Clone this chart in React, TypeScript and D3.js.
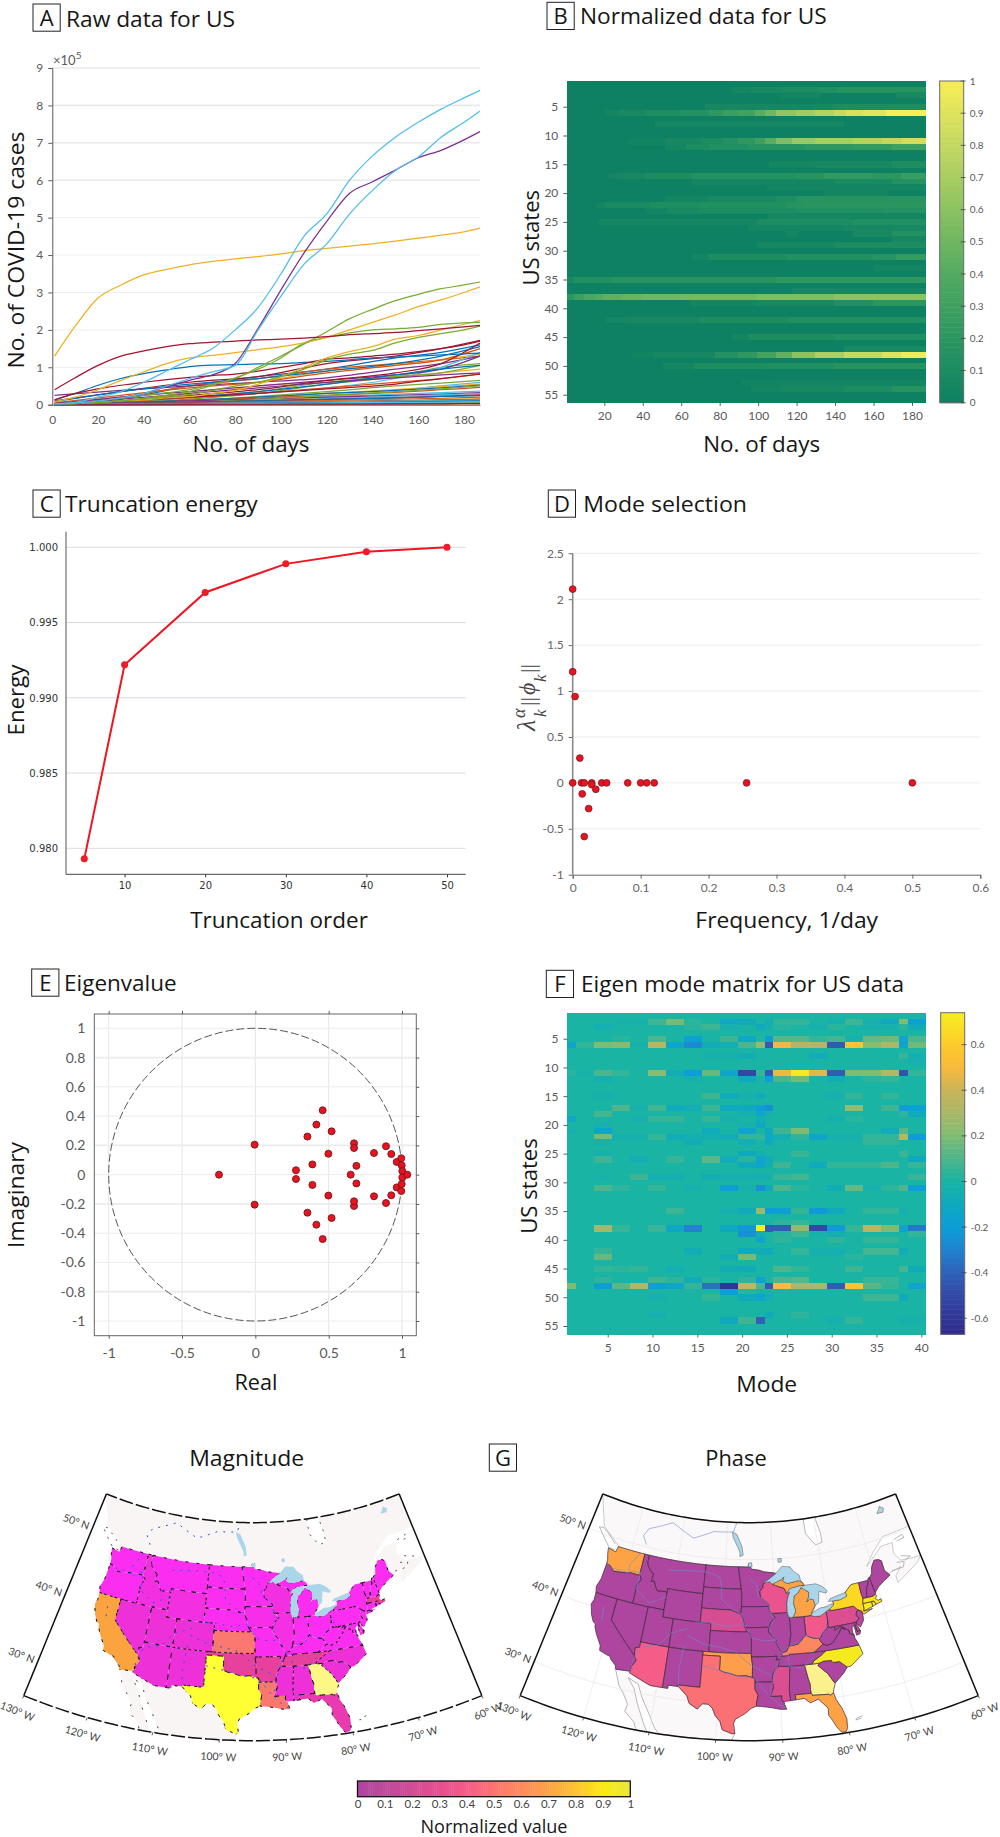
import * as d3 from "d3";
import { useEffect, useRef } from "react";

const UI_FONT = "Lato, sans-serif";
const LABEL_FONT = "'Open Sans', sans-serif";
const TICK_GRAY = "#5a5a5a";
const TEXT_DARK = "#161616";

// MATLAB line colours
const lineColors = ["#0072BD", "#D95319", "#EDB120", "#7E2F8E", "#77AC30", "#4DBEEE", "#A2142F"];

// Panel A, values in units of 10^5 cases
const mainDays = [1, 10, 20, 30, 40, 50, 60, 70, 80, 90, 100, 110, 120, 130, 140, 150, 160, 170, 180, 187];
const mainSeries: { color: number; values: number[] }[] = [
  { color: 0, values: [0.13, 0.3, 0.52, 0.7, 0.83, 0.93, 1.02, 1.06, 1.07, 1.09, 1.1, 1.13, 1.16, 1.2, 1.25, 1.27, 1.3, 1.33, 1.36, 1.38] },
  { color: 6, values: [0.13, 0.3, 0.42, 0.52, 0.6, 0.67, 0.73, 0.78, 0.82, 0.9, 1.0, 1.1, 1.22, 1.25, 1.3, 1.35, 1.42, 1.5, 1.6, 1.7] },
  { color: 2, values: [0.01, 0.03, 0.06, 0.1, 0.13, 0.18, 0.22, 0.3, 0.38, 0.55, 0.75, 1.0, 1.25, 1.42, 1.55, 1.75, 1.85, 2.0, 2.15, 2.25] },
  { color: 4, values: [0.01, 0.03, 0.06, 0.1, 0.15, 0.2, 0.27, 0.38, 0.5, 0.6, 0.75, 0.95, 1.2, 1.35, 1.45, 1.65, 1.8, 1.9, 2.0, 2.1] },
  { color: 4, values: [0.01, 0.03, 0.06, 0.1, 0.17, 0.25, 0.35, 0.52, 0.72, 0.95, 1.25, 1.65, 1.8, 1.92, 2.0, 2.03, 2.07, 2.15, 2.19, 2.2] },
  { color: 2, values: [0.08, 0.2, 0.4, 0.65, 0.88, 1.1, 1.25, 1.32, 1.39, 1.47, 1.55, 1.65, 1.8, 2.0, 2.2, 2.4, 2.62, 2.8, 3.0, 3.15] },
  { color: 4, values: [0.01, 0.05, 0.1, 0.17, 0.25, 0.32, 0.4, 0.55, 0.7, 1.0, 1.3, 1.62, 1.95, 2.3, 2.55, 2.78, 2.95, 3.1, 3.2, 3.28] },
  { color: 6, values: [0.4, 0.72, 1.05, 1.3, 1.44, 1.55, 1.63, 1.67, 1.7, 1.73, 1.75, 1.78, 1.82, 1.87, 1.9, 1.93, 1.98, 2.03, 2.08, 2.12] },
  { color: 2, values: [1.3, 2.1, 2.85, 3.2, 3.47, 3.62, 3.74, 3.83, 3.9, 3.96, 4.03, 4.12, 4.18, 4.24, 4.3, 4.37, 4.45, 4.53, 4.62, 4.72] },
  { color: 3, values: [0.01, 0.04, 0.1, 0.18, 0.3, 0.48, 0.65, 0.8, 1.1, 2.04, 3.07, 4.05, 4.9, 5.65, 5.96, 6.27, 6.6, 6.8, 7.08, 7.3] },
  { color: 5, values: [0.01, 0.04, 0.1, 0.18, 0.3, 0.5, 0.7, 0.88, 1.05, 2.0, 2.9, 3.75, 4.3, 5.1, 5.73, 6.26, 6.62, 7.15, 7.55, 7.85] },
  { color: 5, values: [0.02, 0.06, 0.2, 0.35, 0.6, 0.9, 1.2, 1.5, 2.0, 2.6, 3.5, 4.5, 5.1, 6.0, 6.65, 7.15, 7.55, 7.9, 8.2, 8.4] },
];

const lowDays = [1, 30, 60, 90, 120, 150, 170, 187];
const lowSeries: number[][] = [
  [0.02, 0.15, 0.5, 0.75, 0.95, 1.25, 1.4, 1.6],
  [0.02, 0.2, 0.5, 0.7, 0.95, 1.1, 1.2, 1.3],
  [0.01, 0.1, 0.3, 0.6, 0.9, 1.05, 1.2, 1.35],
  [0.25, 0.38, 0.5, 0.6, 0.72, 0.95, 1.1, 1.3],
  [0.01, 0.05, 0.15, 0.3, 0.55, 0.75, 1.0, 1.1],
  [0.01, 0.08, 0.2, 0.3, 0.45, 0.7, 1.0, 1.4],
  [0.1, 0.35, 0.6, 0.75, 1.1, 1.3, 1.5, 1.72],
  [0.08, 0.35, 0.55, 0.7, 0.9, 1.1, 1.3, 1.55],
  [0.05, 0.25, 0.45, 0.6, 0.85, 1.05, 1.2, 1.5],
  [0.01, 0.06, 0.2, 0.5, 0.6, 0.75, 0.85, 0.95],
  [0.03, 0.2, 0.35, 0.5, 0.65, 0.8, 0.95, 1.3],
  [0.01, 0.06, 0.2, 0.35, 0.6, 0.75, 0.85, 1.05],
  [0.01, 0.05, 0.1, 0.2, 0.3, 0.38, 0.5, 0.6],
  [0.02, 0.1, 0.25, 0.4, 0.65, 0.85, 1.1, 1.65],
  [0.02, 0.1, 0.2, 0.35, 0.55, 0.8, 0.95, 1.05],
  [0.01, 0.08, 0.18, 0.3, 0.45, 0.6, 0.7, 0.82],
  [0.01, 0.05, 0.12, 0.2, 0.3, 0.4, 0.48, 0.55],
  [0.02, 0.15, 0.3, 0.45, 0.6, 0.72, 0.8, 0.85],
  [0.01, 0.05, 0.1, 0.22, 0.35, 0.5, 0.58, 0.65],
  [0.005, 0.03, 0.08, 0.15, 0.22, 0.28, 0.32, 0.36],
  [0.01, 0.1, 0.2, 0.3, 0.42, 0.55, 0.7, 0.82],
  [0.01, 0.06, 0.12, 0.2, 0.3, 0.38, 0.45, 0.52],
  [0.005, 0.04, 0.1, 0.18, 0.25, 0.33, 0.4, 0.46],
  [0.005, 0.03, 0.08, 0.12, 0.18, 0.22, 0.26, 0.3],
  [0.01, 0.05, 0.1, 0.15, 0.2, 0.25, 0.28, 0.32],
  [0.005, 0.03, 0.07, 0.14, 0.25, 0.35, 0.42, 0.5],
  [0.003, 0.02, 0.05, 0.1, 0.16, 0.22, 0.26, 0.3],
  [0.005, 0.03, 0.06, 0.1, 0.14, 0.18, 0.22, 0.26],
  [0.005, 0.03, 0.07, 0.1, 0.14, 0.18, 0.22, 0.24],
  [0.002, 0.02, 0.05, 0.08, 0.11, 0.14, 0.17, 0.2],
  [0.002, 0.015, 0.03, 0.06, 0.09, 0.12, 0.14, 0.16],
  [0.003, 0.02, 0.04, 0.06, 0.08, 0.1, 0.12, 0.14],
  [0.002, 0.015, 0.03, 0.05, 0.07, 0.09, 0.11, 0.13],
  [0.002, 0.01, 0.025, 0.05, 0.07, 0.09, 0.1, 0.12],
  [0.002, 0.01, 0.02, 0.035, 0.05, 0.06, 0.07, 0.08],
  [0.001, 0.01, 0.02, 0.03, 0.05, 0.07, 0.09, 0.1],
  [0.001, 0.005, 0.01, 0.02, 0.03, 0.04, 0.05, 0.05],
  [0.0005, 0.003, 0.005, 0.01, 0.012, 0.015, 0.018, 0.02],
  [0.001, 0.005, 0.01, 0.015, 0.02, 0.025, 0.03, 0.035],
  [0.001, 0.006, 0.012, 0.02, 0.03, 0.04, 0.045, 0.05],
  [0.001, 0.008, 0.015, 0.03, 0.05, 0.06, 0.07, 0.08],
  [0.0005, 0.003, 0.006, 0.01, 0.015, 0.02, 0.025, 0.03],
];

// Panel B: row -> [first day, last day, value]; everything else is 0
type Span = [number, number, number];
const normalizedRows: Record<number, Span[]> = {
  2: [[87, 97, 0.05], [97, 113, 0.08], [113, 132, 0.11], [132, 142, 0.14], [142, 187, 0.18]],
  3: [[113, 132, 0.05], [172, 187, 0.08]],
  5: [[73, 139, 0.06], [139, 187, 0.1]],
  6: [[21, 28, 0.04], [28, 42, 0.08], [42, 60, 0.12], [60, 75, 0.15], [75, 82, 0.22], [82, 90, 0.28], [90, 99, 0.32], [99, 104, 0.42], [104, 110, 0.5], [110, 120, 0.62], [120, 130, 0.68], [130, 140, 0.75], [140, 146, 0.82], [146, 155, 0.88], [155, 167, 0.92], [167, 187, 1]],
  8: [[47, 144, 0.05]],
  11: [[33, 52, 0.03], [52, 72, 0.07], [72, 82, 0.1], [82, 90, 0.15], [90, 99, 0.22], [99, 104, 0.3], [104, 110, 0.42], [110, 118, 0.55], [118, 130, 0.65], [130, 150, 0.7], [150, 165, 0.75], [165, 175, 0.8], [175, 187, 0.85]],
  12: [[52, 63, 0.05], [63, 75, 0.1], [75, 95, 0.13], [95, 125, 0.17], [125, 150, 0.22], [150, 170, 0.25], [170, 187, 0.3]],
  15: [[106, 130, 0.05], [130, 170, 0.07], [170, 187, 0.11]],
  17: [[22, 27, 0.04], [27, 42, 0.07], [42, 66, 0.11], [66, 120, 0.15], [120, 135, 0.18], [135, 160, 0.24], [160, 175, 0.2], [175, 187, 0.27]],
  18: [[66, 140, 0.05], [140, 170, 0.09], [170, 187, 0.16]],
  19: [[105, 187, 0.04]],
  20: [[135, 167, 0.05]],
  21: [[52, 75, 0.05], [75, 110, 0.08], [110, 120, 0.12], [120, 187, 0.17]],
  22: [[16, 21, 0.04], [21, 45, 0.09], [45, 70, 0.12], [70, 115, 0.14], [115, 125, 0.17], [125, 165, 0.19], [165, 187, 0.2]],
  23: [[42, 53, 0.04], [53, 70, 0.08], [70, 120, 0.1], [120, 165, 0.13], [165, 187, 0.15]],
  24: [[105, 187, 0.05]],
  25: [[17, 100, 0.05], [100, 150, 0.1], [150, 187, 0.13]],
  26: [[95, 145, 0.05], [145, 187, 0.07]],
  27: [[115, 120, 0.05], [150, 170, 0.08], [170, 187, 0.16]],
  28: [[170, 187, 0.06]],
  29: [[100, 110, 0.07], [110, 140, 0.06], [140, 187, 0.11]],
  31: [[66, 75, 0.05], [75, 115, 0.1], [115, 160, 0.14], [160, 172, 0.17], [172, 187, 0.25]],
  33: [[160, 187, 0.04]],
  35: [[1, 5, 0.08], [5, 25, 0.14], [25, 110, 0.17], [110, 187, 0.22]],
  37: [[118, 187, 0.06]],
  38: [[1, 5, 0.2], [5, 10, 0.3], [10, 15, 0.36], [15, 20, 0.4], [20, 30, 0.45], [30, 40, 0.48], [40, 60, 0.5], [60, 100, 0.52], [100, 140, 0.55], [140, 187, 0.6]],
  39: [[65, 100, 0.05], [100, 140, 0.08], [140, 160, 0.13], [160, 187, 0.2]],
  42: [[21, 32, 0.05], [32, 70, 0.07], [70, 115, 0.1], [115, 187, 0.13]],
  45: [[87, 96, 0.05], [96, 140, 0.1], [140, 187, 0.13]],
  47: [[145, 187, 0.08]],
  48: [[35, 47, 0.03], [47, 78, 0.07], [78, 90, 0.15], [90, 100, 0.22], [100, 110, 0.33], [110, 118, 0.45], [118, 130, 0.6], [130, 145, 0.72], [145, 165, 0.82], [165, 175, 0.9], [175, 187, 0.97]],
  50: [[51, 67, 0.05], [67, 105, 0.12], [105, 140, 0.14], [140, 187, 0.18]],
  53: [[92, 112, 0.03], [112, 187, 0.04]],
  54: [[97, 112, 0.05], [112, 145, 0.07], [145, 170, 0.1], [170, 187, 0.18]],
};

// Panel C
const truncationOrders = [5, 10, 20, 30, 40, 50];
const truncationEnergy = [0.9793, 0.9922, 0.997, 0.9989, 0.9997, 1.0];

// Panel D
const modeFrequency = [0, 0, 0.0035, 0.0105, 0, 0.013, 0.017, 0.014, 0.0235, 0.017, 0.028, 0.028, 0.034, 0.0427, 0.05, 0.081, 0.1, 0.109, 0.12, 0.256, 0.5];
const modeAmplitude = [2.11, 1.21, 0.94, 0.27, 0, 0, 0, -0.12, -0.28, -0.585, 0, -0.02, -0.07, 0, 0, 0, 0, 0, 0, 0, 0];

// Panel E
const eigenReal = [-0.248, -0.005, -0.005, 0.277, 0.277, 0.355, 0.355, 0.389, 0.389, 0.416, 0.416, 0.459, 0.459, 0.498, 0.498, 0.52, 0.52, 0.65, 0.673, 0.673, 0.673, 0.673, 0.689, 0.689, 0.809, 0.809, 0.891, 0.891, 0.927, 0.927, 0.964, 0.964, 0.995, 0.995, 0.998, 0.998, 1.002, 1.002, 1.036];
const eigenImag = [0, 0.205, -0.205, 0.03, -0.03, 0.26, -0.26, 0.07, -0.07, 0.342, -0.342, 0.44, -0.44, 0.143, -0.143, 0.296, -0.296, 0, 0.214, -0.214, 0.182, -0.182, 0.06, -0.06, 0.148, -0.148, 0.194, -0.194, 0.141, -0.141, 0.087, -0.087, 0.112, -0.112, 0.064, -0.064, 0.025, -0.02, 0];

// Panel F: row -> [first mode, last mode, value]; everything else is 0
const modeRows: Record<number, Span[]> = {
  2: [[6, 9, -0.02], [10, 11, 0.07], [12, 13, 0.18], [14, 15, 0.03], [18, 19, -0.12], [20, 21, -0.08], [23, 23, -0.05], [24, 25, 0.05], [26, 27, 0.05], [30, 31, -0.03], [32, 33, 0.07], [34, 35, -0.04], [36, 37, -0.1], [38, 38, 0.2], [39, 40, -0.18]],
  3: [[4, 5, -0.05], [14, 15, 0.03], [16, 17, 0.07], [18, 19, -0.04], [22, 22, -0.08], [23, 23, -0.04], [24, 25, 0.03], [28, 29, -0.03], [30, 31, 0.03], [34, 37, -0.03], [38, 38, 0.04], [39, 40, -0.08]],
  5: [[6, 7, 0.03], [10, 11, 0.1], [14, 15, -0.18], [18, 19, 0.07], [20, 21, -0.12], [22, 22, 0.02], [23, 23, -0.2], [24, 27, 0.12], [28, 29, 0.05], [30, 31, 0.08], [32, 33, -0.02], [34, 35, 0.15], [36, 37, 0.17], [38, 38, -0.15], [39, 40, 0.1]],
  6: [[1, 1, -0.15], [2, 3, 0.05], [4, 5, 0.2], [6, 7, 0.22], [8, 9, -0.03], [10, 11, 0.35], [12, 13, -0.15], [14, 15, -0.27], [16, 17, -0.07], [18, 19, -0.05], [20, 21, 0.1], [22, 22, 0.25], [23, 23, -0.42], [24, 25, 0.48], [26, 29, 0.33], [30, 31, -0.42], [32, 33, 0.55], [34, 35, 0.22], [36, 37, 0.3], [38, 38, -0.15], [39, 40, 0.17]],
  8: [[16, 19, -0.03], [20, 21, -0.06], [28, 29, -0.07], [38, 38, 0.05], [39, 40, -0.05]],
  9: [[39, 40, -0.03]],
  11: [[1, 1, 0.03], [2, 3, -0.02], [4, 5, 0.1], [6, 7, 0.05], [10, 11, 0.22], [12, 13, -0.07], [14, 15, -0.2], [16, 17, 0.15], [18, 19, -0.15], [20, 21, -0.5], [22, 22, 0.05], [23, 23, -0.42], [24, 25, 0.48], [26, 27, 0.72], [28, 29, 0.45], [30, 31, -0.42], [32, 35, 0.2], [36, 37, 0.33], [38, 38, -0.45], [39, 40, 0.05]],
  12: [[4, 5, -0.05], [14, 15, -0.03], [20, 21, -0.1], [23, 23, -0.2], [24, 25, 0.1], [26, 27, 0.18], [30, 31, -0.06], [34, 35, 0.04], [36, 37, 0.05]],
  15: [[4, 5, -0.03], [16, 17, 0.07], [18, 19, -0.08], [20, 21, -0.03], [22, 22, -0.08], [30, 31, -0.03], [32, 33, 0.05], [36, 37, 0.05]],
  17: [[6, 7, 0.1], [8, 9, -0.03], [10, 11, 0.08], [12, 13, -0.08], [14, 15, -0.05], [16, 17, 0.07], [18, 21, -0.1], [22, 22, -0.2], [23, 23, -0.25], [32, 33, 0.25], [36, 37, 0.07], [38, 38, -0.2], [39, 40, -0.18]],
  18: [[4, 5, 0.08], [20, 21, -0.03], [22, 22, -0.15], [23, 23, -0.04], [38, 38, 0.04], [39, 40, -0.08]],
  19: [[1, 1, -0.12], [8, 9, -0.03], [10, 13, 0.05], [16, 17, 0.05], [18, 19, -0.03], [22, 22, -0.05], [30, 31, -0.03], [32, 33, 0.03]],
  20: [[4, 5, -0.03], [20, 21, -0.03], [22, 22, -0.12]],
  21: [[1, 1, -0.03], [4, 5, -0.15], [16, 17, -0.08], [20, 21, -0.15], [23, 23, -0.1], [24, 25, 0.07], [26, 27, 0.2], [36, 37, -0.07], [38, 38, 0.12]],
  22: [[4, 5, 0.18], [6, 9, -0.03], [10, 11, 0.05], [12, 13, -0.07], [14, 17, -0.05], [18, 19, -0.07], [20, 22, 0.05], [23, 23, -0.12], [24, 25, -0.05], [26, 27, 0.04], [28, 29, -0.14], [30, 33, -0.03], [34, 37, 0.05], [38, 38, 0.35], [39, 40, -0.2]],
  23: [[4, 5, -0.03], [14, 15, -0.06], [20, 21, -0.05], [23, 23, -0.1], [34, 37, 0.05]],
  25: [[4, 5, -0.03], [20, 21, -0.1], [22, 22, -0.03], [26, 27, 0.06], [38, 38, 0.06]],
  26: [[4, 5, 0.07], [8, 9, -0.05], [12, 13, 0.05], [16, 17, 0.13], [18, 19, -0.07], [20, 21, 0.03], [22, 22, -0.15], [23, 23, -0.06], [39, 40, -0.1]],
  27: [[20, 21, -0.08], [22, 22, -0.15], [23, 23, -0.05], [24, 25, 0.07], [28, 29, -0.08], [30, 35, 0.05], [36, 37, 0.1], [39, 40, 0.05]],
  29: [[4, 5, -0.02], [8, 9, 0.07], [10, 13, -0.05], [16, 17, -0.06], [18, 21, -0.04], [22, 22, -0.05], [23, 23, -0.03], [24, 25, 0.06], [26, 27, 0.08], [39, 40, 0.06]],
  31: [[4, 5, 0.1], [6, 7, 0.04], [10, 11, 0.05], [14, 15, -0.03], [18, 19, -0.2], [20, 21, -0.03], [22, 22, -0.25], [23, 23, -0.08], [24, 25, 0.1], [26, 27, 0.03], [30, 31, -0.06], [32, 33, 0.15], [34, 35, -0.04], [36, 37, 0.04], [38, 38, 0.1], [39, 40, -0.2]],
  35: [[12, 13, 0.07], [18, 19, -0.04], [20, 21, -0.08], [22, 22, 0.25], [23, 23, -0.2], [24, 25, -0.18], [26, 27, 0.05], [28, 29, -0.22], [30, 31, -0.1], [34, 37, 0.05], [38, 38, -0.04]],
  37: [[24, 25, 0.04], [26, 27, 0.06]],
  38: [[4, 5, 0.28], [6, 7, 0.05], [10, 11, 0.06], [12, 13, -0.12], [14, 15, -0.3], [18, 19, -0.1], [20, 21, -0.22], [22, 22, 0.74], [23, 23, -0.42], [24, 25, -0.42], [26, 27, 0.25], [28, 29, -0.5], [30, 31, -0.22], [32, 33, 0.05], [34, 35, 0.35], [36, 37, 0.2], [38, 38, -0.15], [39, 40, -0.33]],
  39: [[20, 21, -0.25], [22, 22, -0.05], [24, 25, 0.03], [26, 27, 0.07], [28, 29, -0.02], [30, 31, -0.05], [39, 40, 0.05]],
  40: [[22, 22, -0.15], [24, 25, 0.04], [30, 31, 0.04], [34, 37, 0.05]],
  42: [[4, 5, 0.05], [14, 15, -0.06], [20, 21, -0.08], [22, 22, -0.06], [23, 23, -0.08], [26, 27, 0.05], [28, 31, -0.04], [34, 37, 0.08], [38, 38, -0.06]],
  43: [[4, 5, 0.15], [18, 19, -0.06], [20, 21, 0.18], [32, 33, 0.03]],
  45: [[4, 5, 0.05], [6, 7, 0.04], [8, 9, 0.05], [12, 13, -0.05], [18, 19, -0.06], [20, 21, -0.08], [24, 25, 0.1], [26, 27, 0.05], [32, 33, 0.07], [38, 38, 0.08], [39, 40, -0.08]],
  47: [[4, 5, 0.04], [10, 11, 0.07], [12, 13, 0.04], [14, 15, -0.07], [16, 17, 0.03], [20, 21, 0.04], [22, 22, -0.18], [24, 25, 0.1], [26, 27, 0.12], [34, 37, 0.06]],
  48: [[1, 1, 0.2], [4, 5, -0.2], [6, 7, 0.13], [8, 9, 0.33], [10, 11, -0.2], [12, 13, -0.14], [14, 15, 0.05], [16, 17, -0.35], [18, 19, -0.6], [20, 21, 0.38], [22, 22, 0.1], [23, 23, -0.42], [24, 25, 0.5], [26, 29, 0.3], [30, 31, -0.42], [32, 33, 0.55], [34, 35, 0.12], [36, 37, 0.05], [39, 40, -0.15]],
  49: [[18, 19, -0.2], [20, 21, 0.03]],
  50: [[10, 11, -0.03], [16, 17, 0.05], [20, 21, -0.08], [22, 22, -0.15], [23, 23, -0.05], [34, 37, 0.07], [38, 38, -0.08]],
  53: [[10, 11, -0.03], [23, 23, -0.08], [26, 27, 0.04]],
  54: [[18, 19, -0.1], [20, 21, 0.07], [22, 22, -0.4], [30, 31, -0.03], [32, 33, 0.05], [38, 40, -0.03]],
};

// Panel G, state outlines in [lon, lat]
type Pt = [number, number];
const stateShapes: Record<string, Pt[]> = {
  WA: [[-124.7, 48.4], [-123.0, 48.2], [-122.8, 49], [-117.03, 49], [-117.04, 46.4], [-116.92, 45.99], [-118.98, 46], [-119.3, 45.93], [-121.2, 45.65], [-122.3, 45.55], [-122.8, 45.9], [-123.2, 46.15], [-124.0, 46.25], [-124.1, 46.9], [-124.4, 47.5]],
  OR: [[-124.0, 46.25], [-123.2, 46.15], [-122.8, 45.9], [-122.3, 45.55], [-121.2, 45.65], [-119.3, 45.93], [-118.98, 46], [-116.92, 45.99], [-116.5, 45.5], [-117.2, 44.4], [-117.03, 44.2], [-117.03, 42], [-124.2, 42], [-124.5, 42.85], [-124.1, 44]],
  CA: [[-124.2, 42], [-120, 42], [-120, 39], [-114.63, 35], [-114.14, 34.3], [-114.7, 33.4], [-114.72, 32.72], [-117.12, 32.53], [-117.3, 33], [-118.4, 33.75], [-118.5, 34.03], [-119.2, 34.15], [-120.5, 34.45], [-120.65, 35.15], [-121.9, 36.6], [-122.5, 37.5], [-122.5, 37.8], [-123.0, 38], [-123.7, 38.9], [-124.35, 40.3], [-124.1, 41]],
  NV: [[-120, 42], [-114.04, 42], [-114.04, 36.2], [-114.74, 36.1], [-114.63, 35], [-120, 39]],
  ID: [[-117.03, 49], [-116.05, 49], [-116.05, 48], [-115.7, 47.45], [-114.7, 46.7], [-114.35, 46.65], [-114.5, 45.55], [-113.95, 45.7], [-113.45, 44.95], [-113.0, 44.45], [-111.5, 44.55], [-111.05, 44.48], [-111.05, 42], [-117.03, 42], [-117.03, 44.2], [-117.2, 44.4], [-116.5, 45.5], [-116.92, 45.99], [-117.04, 46.4]],
  MT: [[-116.05, 49], [-104.05, 49], [-104.05, 45], [-111.05, 45], [-111.05, 44.48], [-111.5, 44.55], [-113, 44.45], [-113.45, 44.95], [-113.95, 45.7], [-114.5, 45.55], [-114.35, 46.65], [-114.7, 46.7], [-115.7, 47.45], [-116.05, 48]],
  WY: [[-111.05, 45], [-104.05, 45], [-104.05, 41], [-111.05, 41]],
  UT: [[-114.04, 42], [-111.05, 42], [-111.05, 41], [-109.05, 41], [-109.05, 37], [-114.04, 37]],
  CO: [[-109.05, 41], [-102.05, 41], [-102.05, 37], [-109.05, 37]],
  AZ: [[-114.74, 36.1], [-114.04, 36.2], [-114.04, 37], [-109.05, 37], [-109.05, 31.33], [-111.07, 31.33], [-114.81, 32.5], [-114.72, 32.72], [-114.7, 33.4], [-114.14, 34.3], [-114.63, 35]],
  NM: [[-109.05, 37], [-103.0, 37], [-103.04, 32], [-106.62, 32], [-106.53, 31.78], [-108.21, 31.78], [-108.21, 31.33], [-109.05, 31.33]],
  ND: [[-104.05, 49], [-97.23, 49], [-96.56, 45.94], [-104.05, 45.94]],
  SD: [[-104.05, 45.94], [-96.56, 45.94], [-96.45, 45.3], [-96.45, 43.5], [-96.6, 42.5], [-97.9, 42.8], [-98.5, 43], [-104.05, 43]],
  NE: [[-104.05, 43], [-98.5, 43], [-97.9, 42.8], [-96.6, 42.5], [-96.1, 41.7], [-95.85, 40.7], [-95.3, 40], [-102.05, 40], [-102.05, 41], [-104.05, 41]],
  KS: [[-102.05, 40], [-95.3, 40], [-94.9, 39.8], [-94.6, 39.1], [-94.62, 37], [-102.05, 37]],
  OK: [[-103, 37], [-94.62, 37], [-94.62, 36.5], [-94.43, 35.4], [-94.48, 33.64], [-95.5, 33.9], [-96.6, 33.85], [-97.2, 33.9], [-98.1, 34.13], [-99.2, 34.3], [-100, 34.56], [-100, 36.5], [-103.04, 36.5]],
  TX: [[-103.04, 36.5], [-100, 36.5], [-100, 34.56], [-99.2, 34.3], [-98.1, 34.13], [-97.2, 33.9], [-96.6, 33.85], [-95.5, 33.9], [-94.48, 33.64], [-94.04, 33.55], [-94.04, 33], [-94.04, 32], [-93.55, 31.2], [-93.84, 30.1], [-93.85, 29.7], [-94.7, 29.4], [-95.6, 28.7], [-97.1, 27.9], [-97.4, 27.3], [-97.15, 25.96], [-97.6, 25.9], [-99.1, 26.4], [-99.5, 27.5], [-100.3, 28.3], [-100.8, 29.25], [-101.5, 29.77], [-102.4, 29.77], [-103.15, 28.98], [-104.5, 29.65], [-105, 30.65], [-106.53, 31.78], [-106.62, 32], [-103.04, 32]],
  MN: [[-97.23, 49], [-95.15, 49], [-95.15, 49.38], [-94.8, 49.3], [-94.6, 48.7], [-93.0, 48.55], [-92, 48.3], [-90, 48.1], [-89.5, 48], [-91.5, 47], [-92.1, 46.75], [-92.3, 46.1], [-92.9, 45.6], [-92.75, 44.75], [-91.25, 43.8], [-91.22, 43.5], [-96.45, 43.5], [-96.45, 45.3], [-96.56, 45.94]],
  IA: [[-96.45, 43.5], [-91.22, 43.5], [-91.1, 42.7], [-90.15, 41.9], [-91.05, 41.2], [-91.42, 40.4], [-91.7, 40.6], [-95.77, 40.58], [-95.85, 40.7], [-96.1, 41.7], [-96.6, 42.5]],
  MO: [[-95.77, 40.58], [-91.7, 40.6], [-91.42, 40.4], [-91.5, 40], [-90.75, 39.25], [-90.15, 38.8], [-90.2, 38.4], [-89.5, 37.3], [-89.15, 37], [-89.4, 36.5], [-89.7, 36], [-90.37, 36], [-90.15, 36.5], [-94.62, 36.5], [-94.62, 37], [-94.6, 39.1], [-94.9, 39.8], [-95.3, 40]],
  AR: [[-94.62, 36.5], [-90.15, 36.5], [-90.37, 36], [-89.7, 36], [-90.1, 35.1], [-90.6, 34.7], [-91.1, 33.9], [-91.15, 33], [-94.04, 33], [-94.04, 33.55], [-94.48, 33.64], [-94.43, 35.4]],
  LA: [[-94.04, 33], [-91.15, 33], [-91.0, 32.2], [-91.6, 31], [-89.73, 31], [-89.8, 30.6], [-89.6, 30.2], [-89.4, 30.05], [-89.4, 29.8], [-89.1, 29.1], [-90.1, 29.15], [-91.3, 29.4], [-92.3, 29.55], [-93.85, 29.7], [-93.84, 30.1], [-93.55, 31.2], [-94.04, 32]],
  MS: [[-90.1, 35.1], [-88.2, 35], [-88.1, 34.9], [-88.47, 31.9], [-88.4, 30.25], [-89.4, 30.2], [-89.6, 30.2], [-89.8, 30.6], [-89.73, 31], [-91.6, 31], [-91.0, 32.2], [-91.15, 33], [-91.1, 33.9], [-90.6, 34.7]],
  AL: [[-88.2, 35], [-85.6, 35], [-85.18, 32.87], [-85, 32.3], [-85.05, 31.55], [-85, 31], [-87.6, 31], [-87.5, 30.3], [-88.4, 30.25], [-88.47, 31.9], [-88.1, 34.9]],
  GA: [[-85.6, 35], [-83.1, 35], [-83.35, 34.7], [-81.9, 33.4], [-81.4, 32.6], [-81.1, 32.1], [-80.9, 32], [-81.3, 31.2], [-81.45, 30.7], [-82.05, 30.37], [-82.2, 30.57], [-84.86, 30.7], [-85, 31], [-85.05, 31.55], [-85, 32.3], [-85.18, 32.87]],
  FL: [[-87.6, 31], [-85, 31], [-84.86, 30.7], [-82.2, 30.57], [-82.05, 30.37], [-81.45, 30.7], [-81.2, 29.7], [-80.5, 28.4], [-80.05, 26.9], [-80.15, 25.7], [-80.4, 25.2], [-81.1, 25.15], [-81.75, 26], [-82.2, 26.9], [-82.7, 27.7], [-82.65, 28.7], [-83.4, 29.5], [-84, 30.1], [-85.3, 29.7], [-86.2, 30.4], [-87.5, 30.3]],
  SC: [[-83.35, 34.7], [-83.1, 35], [-82.3, 35.2], [-81, 35.15], [-80.8, 34.82], [-79.67, 34.8], [-78.55, 33.86], [-79.2, 33.2], [-79.9, 32.7], [-80.9, 32], [-81.1, 32.1], [-81.4, 32.6], [-81.9, 33.4]],
  NC: [[-75.85, 36.55], [-81.68, 36.59], [-82.6, 36.05], [-84, 35.4], [-84.32, 35], [-83.1, 35], [-82.3, 35.2], [-81, 35.15], [-80.8, 34.82], [-79.67, 34.8], [-78.55, 33.86], [-77.9, 33.9], [-76.5, 34.7], [-75.5, 35.25]],
  TN: [[-89.7, 36], [-89.4, 36.5], [-88.07, 36.5], [-88.05, 36.68], [-83.68, 36.6], [-81.68, 36.59], [-82.6, 36.05], [-84, 35.4], [-84.32, 35], [-85.6, 35], [-88.2, 35], [-90.1, 35.1]],
  KY: [[-89.4, 36.5], [-89.15, 37], [-88.5, 37.1], [-88, 37.8], [-87, 37.9], [-86.3, 38], [-85.4, 38.7], [-84.8, 39.1], [-84.2, 38.8], [-83.65, 38.6], [-82.6, 38.4], [-82, 37.55], [-83.68, 36.6], [-88.05, 36.68], [-88.07, 36.5]],
  VA: [[-83.68, 36.6], [-75.85, 36.55], [-76, 37], [-76.3, 37.6], [-76.3, 38], [-77.05, 38.4], [-77.05, 38.85], [-77.5, 39.1], [-77.83, 39.13], [-78.35, 39.4], [-78.85, 38.75], [-79.3, 38.4], [-80.3, 37.5], [-81.3, 37.3], [-82, 37.55]],
  WV: [[-82.6, 38.4], [-82, 37.55], [-81.3, 37.3], [-80.3, 37.5], [-79.3, 38.4], [-78.85, 38.75], [-78.35, 39.4], [-77.83, 39.13], [-77.75, 39.32], [-78.5, 39.6], [-79.48, 39.2], [-79.48, 39.72], [-80.52, 39.72], [-80.52, 40.64], [-80.85, 39.7], [-81.7, 39.2], [-82.2, 38.6]],
  OH: [[-84.8, 41.7], [-83.45, 41.73], [-82.7, 41.5], [-81.7, 41.5], [-80.52, 41.98], [-80.52, 40.64], [-80.85, 39.7], [-81.7, 39.2], [-82.2, 38.6], [-82.6, 38.4], [-83.65, 38.6], [-84.2, 38.8], [-84.8, 39.1]],
  IN: [[-87.5, 41.7], [-87.2, 41.75], [-86.8, 41.76], [-84.8, 41.7], [-84.8, 39.1], [-85.4, 38.7], [-86.3, 38], [-87, 37.9], [-88, 37.8], [-87.5, 39.35]],
  IL: [[-90.65, 42.5], [-87.8, 42.5], [-87.6, 41.85], [-87.5, 41.7], [-87.5, 39.35], [-88, 37.8], [-88.5, 37.1], [-89.15, 37], [-89.5, 37.3], [-90.2, 38.4], [-90.15, 38.8], [-90.75, 39.25], [-91.5, 40], [-91.42, 40.4], [-91.05, 41.2], [-90.15, 41.9]],
  WI: [[-92.1, 46.75], [-90.8, 46.9], [-90.4, 46.55], [-89.1, 46.15], [-88.1, 45.9], [-87.6, 45.1], [-87, 45.3], [-87.5, 44.5], [-87.75, 43.7], [-87.8, 42.5], [-90.65, 42.5], [-91.1, 42.7], [-91.22, 43.5], [-91.25, 43.8], [-92.75, 44.75], [-92.9, 45.6], [-92.3, 46.1]],
  MI: [[-86.8, 41.76], [-84.8, 41.7], [-83.45, 41.73], [-83.1, 42.3], [-82.5, 42.9], [-82.4, 43.0], [-82.6, 43.9], [-83.3, 44], [-83.9, 43.7], [-83.4, 44.3], [-83.3, 45], [-84.7, 45.75], [-85.5, 45], [-86.25, 44.7], [-86.5, 43.6], [-86.2, 42.6]],
  "MI upper": [[-90.4, 46.55], [-88.5, 47.1], [-87.9, 47.45], [-88.2, 46.9], [-87.4, 46.5], [-85, 46.75], [-84.4, 46.5], [-84, 46], [-85, 46], [-86.5, 45.8], [-87, 45.7], [-87.6, 45.1], [-88.1, 45.9], [-89.1, 46.15]],
  PA: [[-80.52, 41.98], [-79.76, 42.27], [-79.76, 42], [-75.35, 42], [-74.7, 41.36], [-75.1, 40.95], [-75.2, 40.65], [-74.75, 40.2], [-75.4, 39.8], [-75.8, 39.72], [-80.52, 39.72]],
  NY: [[-79.76, 42.27], [-79, 42.7], [-78.9, 43], [-79.05, 43.27], [-77.5, 43.25], [-76.2, 43.55], [-76.3, 44.1], [-75, 44.95], [-74.7, 45], [-73.35, 45], [-73.4, 43.6], [-73.25, 42.75], [-73.5, 42.05], [-73.5, 41.3], [-73.65, 41], [-72, 41.05], [-73.7, 40.6], [-74.05, 40.65], [-74, 41], [-74.7, 41.36], [-75.35, 42], [-79.76, 42]],
  NJ: [[-74.7, 41.36], [-74, 41], [-74.05, 40.65], [-74, 40.4], [-74.1, 39.75], [-74.9, 38.95], [-75.5, 39.5], [-75.4, 39.8], [-74.75, 40.2], [-75.2, 40.65], [-75.1, 40.95]],
  DE: [[-75.8, 39.72], [-75.4, 39.8], [-75.5, 39.4], [-75.05, 38.45], [-75.7, 38.45]],
  MD: [[-79.48, 39.72], [-75.8, 39.72], [-75.7, 38.45], [-75.05, 38.45], [-75.25, 38.03], [-75.9, 37.95], [-76.0, 39.3], [-76.4, 39.2], [-76.5, 38.5], [-76.3, 38.05], [-77.05, 38.4], [-77.05, 38.85], [-77.5, 39.1], [-77.83, 39.13], [-77.75, 39.32], [-78.5, 39.6], [-79.48, 39.2]],
  CT: [[-73.5, 42.05], [-71.8, 42.02], [-71.85, 41.32], [-73.65, 41], [-73.5, 41.3]],
  RI: [[-71.8, 42.02], [-71.38, 42.02], [-71.15, 41.5], [-71.85, 41.32]],
  MA: [[-73.25, 42.75], [-71.3, 42.7], [-70.8, 42.87], [-70.6, 42.65], [-71, 42.3], [-70.6, 41.95], [-70, 42.05], [-69.95, 41.7], [-70.7, 41.55], [-71.15, 41.5], [-71.38, 42.02], [-71.8, 42.02], [-73.5, 42.05]],
  VT: [[-73.35, 45], [-71.5, 45], [-71.6, 44.5], [-72.05, 44.1], [-72.45, 43], [-72.46, 42.73], [-73.25, 42.75], [-73.4, 43.6]],
  NH: [[-71.5, 45], [-71.3, 45.3], [-71.05, 45.3], [-70.7, 43.1], [-70.8, 42.87], [-71.3, 42.7], [-72.46, 42.73], [-72.45, 43], [-72.05, 44.1], [-71.6, 44.5]],
  ME: [[-71.05, 45.3], [-70.4, 45.75], [-70.25, 46.2], [-70, 46.7], [-69.2, 47.45], [-68.3, 47.35], [-67.8, 47.07], [-67.8, 45.7], [-67.45, 45.3], [-67, 44.85], [-68.5, 44.3], [-69.8, 43.75], [-70.7, 43.1]],
};

const stateNames = Object.keys(stateShapes);
const magnitudeValues: Record<string, number> = {
  TX: 1, GA: 0.95, CA: 0.7, KS: 0.55, LA: 0.55, OK: 0.2, AR: 0.2, TN: 0.2, MA: 0.2, FL: 0.17, MS: 0.1, AL: 0.1, SC: 0.1, NC: 0.1,
  AZ: 0.1, NM: 0.1, UT: 0.1, CO: 0.1, NV: 0.1, WY: 0.06, ID: 0.06, IL: 0.05, WI: 0.06, IA: 0.03,
};
const phaseValues: Record<string, number> = {
  AZ: 0.4, CT: 0.9, DE: 0.05, FL: 0.7, GA: 1.05, KY: 0.58, MD: 0.05, MA: 0.88, MI: 0.7, "MI upper": 0.7, MS: 0.25, NE: 0.22, NJ: 0.05, NY: 0.85, NC: 0.93,
  OH: 0.38, OK: 0.68, PA: 0.25, RI: 0.9, TX: 0.48, WA: 0.7, WI: 0.33,
};

const lakes: Pt[][] = [
  [[-92.1, 46.75], [-90.8, 46.9], [-90.4, 46.55], [-88.5, 47.1], [-87.9, 47.45], [-88.2, 46.9], [-87.4, 46.5], [-85, 46.75], [-84.6, 46.5], [-84.8, 47.5], [-85.9, 48.1], [-86.5, 48.75], [-88.2, 48.9], [-89.5, 48], [-91.5, 47]],
  [[-87.6, 41.85], [-87.2, 41.75], [-86.8, 41.76], [-86.2, 42.6], [-86.5, 43.6], [-86.25, 44.7], [-85.5, 45], [-84.7, 45.75], [-85, 46], [-86.5, 45.8], [-87, 45.7], [-87.6, 45.1], [-87, 45.3], [-87.5, 44.5], [-87.75, 43.7], [-87.8, 42.5]],
  [[-84.7, 45.75], [-83.3, 45], [-83.4, 44.3], [-83.9, 43.7], [-83.3, 44], [-82.6, 43.9], [-82.4, 43], [-81.7, 43.4], [-81.3, 44.9], [-80, 44.5], [-79.7, 44.8], [-80.5, 45.5], [-81.7, 46], [-84, 46]],
  [[-83.45, 41.73], [-82.7, 41.5], [-81.7, 41.5], [-80.52, 41.98], [-79.76, 42.27], [-79, 42.7], [-78.9, 42.9], [-80.4, 42.6], [-81.5, 42.6], [-83.1, 42.1]],
  [[-79.05, 43.27], [-77.5, 43.25], [-76.2, 43.55], [-76.3, 44.1], [-77.5, 43.95], [-79.4, 43.65], [-79.8, 43.3]],
  [[-97, 50.4], [-96.3, 50.6], [-96.6, 51.8], [-97.8, 53.4], [-98.8, 53.7], [-98.6, 53], [-97.6, 51.8], [-97, 51]],
  [[-88.9, 49.5], [-88.2, 49.5], [-88.2, 50], [-88.9, 50]],
  [[-95.2, 49], [-94.4, 49], [-94.5, 49.6], [-95.2, 49.5]],
  [[-65.6, 53.4], [-64.2, 53.3], [-63.8, 53.8], [-64.6, 54.2], [-65, 53.8]],
];

const canadaLand: Pt[] = [[-130, 55], [-60, 55], [-60, 50.3], [-66, 50.2], [-69, 48.5], [-71, 46.9], [-70, 47.4], [-67, 49], [-64.5, 49], [-65, 47.5], [-64, 46.3], [-61, 46], [-60, 46], [-61, 45.3], [-66, 43.5], [-66, 44.5], [-64.5, 45.5], [-67, 45.1], [-67.45, 45.3], [-67.8, 45.7], [-67.8, 47.07], [-68.3, 47.35], [-69.2, 47.45], [-70, 46.7], [-70.25, 46.2], [-70.4, 45.75], [-71.05, 45.3], [-71.5, 45], [-74.7, 45], [-75, 44.95], [-76.3, 44.1], [-79, 43], [-83.1, 42.1], [-82.5, 42.9], [-84, 46], [-84.4, 46.5], [-85, 47], [-89.5, 48], [-92, 48.3], [-94.6, 48.7], [-95.15, 49], [-122.8, 49], [-123.2, 49.3], [-124.7, 50], [-127, 51]];
const jamesBay: Pt[] = [[-82.4, 55], [-82.3, 53], [-81.5, 52.2], [-80.5, 51.3], [-79, 51.5], [-79, 52.8], [-79.6, 54.7], [-79.5, 55]];
const mexicoLand: Pt[] = [[-117.12, 32.53], [-114.72, 32.72], [-114.81, 32.5], [-111.07, 31.33], [-108.21, 31.33], [-108.21, 31.78], [-106.53, 31.78], [-105, 30.65], [-104.5, 29.65], [-103.15, 28.98], [-102.4, 29.77], [-101.5, 29.77], [-100.8, 29.25], [-100.3, 28.3], [-99.5, 27.5], [-99.1, 26.4], [-97.6, 25.9], [-97.15, 25.96], [-97.65, 25], [-108.5, 25], [-109.3, 25.7], [-110.5, 27.5], [-112, 29.5], [-113, 31.2], [-114.8, 31.8], [-113.5, 30.5], [-112.5, 28.5], [-111, 26], [-110.3, 25], [-112, 25], [-112.5, 26], [-114.2, 27.2], [-114, 28.2], [-115, 29.5], [-116, 30.5]];
const coastLines: Pt[][] = [
  [[-123.3, 48.4], [-124.6, 48.5], [-126, 49.4], [-128, 50.7], [-127, 50.8], [-125, 50], [-123.6, 49.2]],
  [[-77.6, 26.9], [-78.6, 26.7], [-78.7, 26.5], [-77.8, 26.6]],
  [[-66.5, 45.3], [-64, 45.3], [-63.5, 46], [-65, 46.2]],
  [[-64, 49.3], [-62, 49.6], [-61.8, 49.1], [-63.5, 49]],
  [[-63.8, 46.9], [-62, 46.4], [-63.2, 46.1]],
];
const rivers: Pt[][] = [
  [[-111.5, 47.5], [-109, 47.8], [-106, 48], [-103.5, 48], [-101, 47.5], [-100.5, 46], [-100.3, 44.4], [-98, 43], [-96.5, 42.5], [-96, 41], [-95, 39.8], [-94.5, 39.1], [-92, 38.7], [-90.2, 38.8]],
  [[-95, 47.5], [-93.5, 46.5], [-93.2, 45], [-91.3, 43.8], [-91, 42.5], [-90.3, 41.7], [-91.4, 40.4], [-90.2, 38.6], [-89.2, 37], [-89.7, 36], [-90.6, 34.7], [-91.15, 33], [-91.6, 31], [-90.5, 30], [-89.2, 29.2]],
  [[-80, 40.5], [-81.7, 39.2], [-82.6, 38.4], [-84.8, 39.1], [-85.7, 38.3], [-88, 37.8], [-89.2, 37]],
  [[-118, 49], [-119.5, 47], [-119.3, 45.93], [-122.8, 45.9], [-124, 46.25]],
  [[-111, 43.8], [-114, 42.6], [-117, 44], [-117, 46.4], [-119, 46.2]],
  [[-106, 40], [-109, 39], [-111, 37], [-114, 36.2], [-114.7, 34], [-114.8, 32.5]],
  [[-106.2, 39], [-103, 38], [-100, 37.7], [-97.3, 37.2], [-95, 35.5], [-91.2, 33.8]],
  [[-103, 35], [-100, 34.56], [-97, 33.9], [-94, 33.5], [-92, 31.3]],
  [[-106.5, 37.5], [-106.8, 34], [-106.53, 31.78]],
  [[-105, 41], [-102, 41], [-99, 40.7], [-96, 41]],
  [[-122, 40.5], [-121.6, 38.5]],
  [[-84, 35.9], [-86, 34.6], [-88.2, 35], [-88.3, 37]],
  [[-117.2, 50.3], [-118.3, 51.4], [-117.5, 52.5], [-112.5, 54], [-107.4, 52.4], [-103, 53.6], [-98.6, 53.7], [-97.9, 54.9]],
];

const meridianLabels = [-130, -120, -110, -100, -90, -80, -70, -60];
const parallelLabels = [30, 40, 50];

// Colour ramps
const normalizedColor = d3.scaleLinear<string>()
  .domain([0, 0.2, 0.4, 0.6, 0.8, 1])
  .range(["#0d8162", "#2a9660", "#52aa60", "#8cc362", "#c3d760", "#f8ee56"]);
const modeColor = d3.scaleLinear<string>()
  .domain([-0.67, -0.5, -0.4, -0.3, -0.2, -0.1, 0, 0.1, 0.2, 0.3, 0.4, 0.5, 0.6, 0.74])
  .range(["#2f2a8c", "#3348a5", "#2f62b8", "#2082d0", "#0d9ed8", "#0ea9bf", "#19b4a4", "#4cb58c", "#7ebc72", "#a9b868", "#c9b45a", "#f8b93c", "#fdcb2c", "#f5ee1e"]);
const phaseColor = d3.scaleLinear<string>()
  .domain([0, 0.1, 0.2, 0.3, 0.4, 0.5, 0.6, 0.7, 0.8, 0.9, 1, 1.05])
  .range(["#ae459f", "#bf4a9c", "#d34c94", "#e54f90", "#f55c88", "#fd7570", "#fe8c5c", "#fea345", "#fec42f", "#fbea14", "#e6e63c", "#fbf08e"]);
const magnitudeColor = d3.scaleLinear<string>()
  .domain([0, 0.1, 0.2, 0.55, 0.7, 0.95, 1])
  .range(["#fb2df0", "#ee30d8", "#e7409d", "#fb7870", "#fba43f", "#fdf785", "#ffff33"]);

// ---- helpers ----

type AxisProps = {
  scale: any;
  side: "bottom" | "left" | "top" | "right";
  at: [number, number];
  values: number[];
  format?: (v: any) => string;
  size?: number;
  pad?: number;
  fontSize?: number;
  family?: string;
  color?: string;
  domain?: boolean;
};

const Axis = ({ scale, side, at, values, format, size = 4, pad = 3, fontSize = 11.5, family = UI_FONT, color = TICK_GRAY, domain = true }: AxisProps) => {
  const ref = useRef<SVGGElement | null>(null);
  useEffect(() => {
    const make = { bottom: d3.axisBottom, left: d3.axisLeft, top: d3.axisTop, right: d3.axisRight }[side];
    const axis = make(scale).tickValues(values).tickSize(size).tickPadding(pad).tickFormat(format ?? ((v: any) => `${v}`));
    const g = d3.select(ref.current!);
    g.call(axis as any);
    g.attr("font-family", family).attr("font-size", fontSize);
    g.selectAll("text").attr("fill", color);
    g.selectAll("line").attr("stroke", color);
    g.select(".domain").attr("stroke", color).attr("display", domain ? null : "none");
  });
  return <g ref={ref} transform={`translate(${at[0]},${at[1]})`} />;
};

const Tag = ({ x, y, letter }: { x: number; y: number; letter: string }) => (
  <g>
    <rect x={x} y={y} width={27.2} height={27.2} fill="none" stroke="#222" strokeWidth={1} />
    <text x={x + 13.6} y={y + 22} textAnchor="middle" fontFamily={LABEL_FONT} fontSize={22} fill={TEXT_DARK}>{letter}</text>
  </g>
);

const labelText = { fontFamily: LABEL_FONT, fontSize: 22, fill: TEXT_DARK, lengthAdjust: "spacingAndGlyphs" as const };

const Title = ({ x, y, len, children, anchor = "start" }: any) => (
  <text x={x} y={y} textAnchor={anchor} textLength={len} {...labelText}>{children}</text>
);

const XLabel = ({ x, y, len, children }: any) => (
  <text x={x} y={y} textAnchor="middle" textLength={len} {...labelText}>{children}</text>
);

const YLabel = ({ x, y, len, children }: any) => (
  <text transform={`translate(${x},${y}) rotate(-90)`} textAnchor="middle" textLength={len} {...labelText}>{children}</text>
);

const ColorBar = ({ x, y, w, h, color, lo, hi, ticks, format }: any) => {
  const v = d3.scaleLinear().domain([lo, hi]).range([y + h, y]);
  const steps = d3.range(64).map((i) => lo + ((hi - lo) * i) / 64);
  return (
    <g>
      {steps.map((s, i) => (
        <rect key={i} x={x} y={v(s + (hi - lo) / 64)} width={w} height={h / 64 + 0.5} fill={color(s + (hi - lo) / 128)} />
      ))}
      <rect x={x} y={y} width={w} height={h} fill="none" stroke="#6a6a6a" strokeWidth={1} />
      {ticks.map((t: number) => (
        <g key={t}>
          <line x1={x + w - 3} x2={x + w + 2} y1={v(t)} y2={v(t)} stroke="#444" strokeWidth={0.8} />
          <text x={x + w + 6} y={v(t) + 3.5} fontFamily={UI_FONT} fontSize={10} fill={TICK_GRAY}>{format ? format(t) : t}</text>
        </g>
      ))}
    </g>
  );
};

const HeatRows = ({ rows, x, y, color, lastCol }: any) => (
  <g shapeRendering="crispEdges">
    <rect x={x(0.5)} y={y(0.5)} width={x(lastCol + 0.5) - x(0.5)} height={y(56.5) - y(0.5)} fill={color(0)} />
    {Object.keys(rows).map((r) =>
      rows[r].map((s: Span, i: number) => (
        <rect key={`${r}-${i}`} x={x(s[0] - 0.5)} y={y(+r - 0.5)} width={x(s[1] + 0.5) - x(s[0] - 0.5)} height={y(1.5) - y(0.5) + 0.4} fill={color(s[2])} />
      ))
    )}
  </g>
);

// ---- panels ----

const PanelA = () => {
  const x = d3.scaleLinear().domain([0, 187]).range([52.3, 480]);
  const y = d3.scaleLinear().domain([0, 9]).range([404.7, 68]);
  const line = d3.line<[number, number]>().x((d) => x(d[0])).y((d) => y(d[1])).curve(d3.curveMonotoneX);
  return (
    <g>
      {d3.range(1, 10).map((v) => (
        <line key={v} x1={52} x2={480} y1={y(v)} y2={y(v)} stroke={v >= 6 ? "#e9e9e9" : "#eef0f0"} strokeWidth={v >= 6 ? 1.6 : 1} />
      ))}
      <g fill="none" strokeWidth={1.25}>
        {lowSeries.map((s, i) => (
          <path key={i} d={line(s.map((v, j) => [lowDays[j], v]))!} stroke={lineColors[i % 7]} />
        ))}
        {mainSeries.map((s, i) => (
          <path key={i} d={line(s.values.map((v, j) => [mainDays[j], v]))!} stroke={lineColors[s.color]} />
        ))}
      </g>
      <Axis scale={x} side="bottom" at={[0, 404.7]} values={d3.range(0, 181, 20)} size={0} pad={11} fontSize={12} />
      <Axis scale={y} side="left" at={[52.3, 0]} values={d3.range(0, 10)} size={4} pad={5} fontSize={12} />
      <text x={53} y={65} fontFamily={UI_FONT} fontSize={13} fill={TICK_GRAY}>×10<tspan dy={-6} fontSize={10}>5</tspan></text>
      <Tag x={33} y={4} letter="A" />
      <Title x={66} y={26.7} len={169}>Raw data for US</Title>
      <XLabel x={251} y={452} len={117}>No. of days</XLabel>
      <YLabel x={24} y={250} len={237}>No. of COVID-19 cases</YLabel>
    </g>
  );
};

const PanelB = () => {
  const x = d3.scaleLinear().domain([20, 180]).range([604.3, 912]);
  const y = d3.scaleLinear().domain([5, 55]).range([106.7, 394.7]);
  return (
    <g>
      <HeatRows rows={normalizedRows} x={x} y={y} color={normalizedColor} lastCol={187} />
      <Axis scale={x} side="bottom" at={[0, 402.9]} values={d3.range(20, 181, 20)} size={3} pad={6} domain={false} fontSize={12} />
      <Axis scale={y} side="left" at={[567.3, 0]} values={d3.range(5, 56, 5)} size={4} pad={5} domain={false} fontSize={12} />
      <ColorBar x={939.7} y={81} w={24} h={321.7} color={normalizedColor} lo={0} hi={1} ticks={d3.range(0, 11).map((d) => d / 10)} />
      <Tag x={547} y={2.3} letter="B" />
      <Title x={580} y={24.3} len={246.7}>Normalized data for US</Title>
      <XLabel x={761.7} y={452} len={117}>No. of days</XLabel>
      <YLabel x={539} y={237.7} len={95.7}>US states</YLabel>
    </g>
  );
};

const PanelC = () => {
  const x = d3.scaleLinear().domain([5, 50]).range([84.3, 447]);
  const y = d3.scaleLinear().domain([0.98, 1]).range([848.3, 547.3]);
  const line = d3.line<number>().x((_, i) => x(truncationOrders[i])).y((d) => y(d));
  const dejavu = "'DejaVu Sans', sans-serif";
  return (
    <g>
      {[0.98, 0.985, 0.99, 0.995, 1].map((v) => (
        <line key={v} x1={66} x2={465.7} y1={y(v)} y2={y(v)} stroke="#d9dbe4" strokeWidth={1} />
      ))}
      <Axis scale={x} side="bottom" at={[0, 874.3]} values={[10, 20, 30, 40, 50]} size={3} pad={5} fontSize={10} family={dejavu} color="#333" domain={false} />
      <Axis scale={y} side="left" at={[66, 0]} values={[0.98, 0.985, 0.99, 0.995, 1]} format={d3.format(".3f")} size={0} pad={8} fontSize={10} family={dejavu} color="#333" domain={false} />
      <line x1={66} x2={66} y1={531.7} y2={874.3} stroke="#555" strokeWidth={1} />
      <line x1={66} x2={465.7} y1={874.3} y2={874.3} stroke="#444" strokeWidth={1} />
      <path d={line(truncationEnergy)!} fill="none" stroke="#f01420" strokeWidth={2} />
      {truncationEnergy.map((v, i) => (
        <circle key={i} cx={x(truncationOrders[i])} cy={y(v)} r={3.5} fill="#ee1c28" />
      ))}
      <Tag x={33} y={490} letter="C" />
      <Title x={65} y={512.3} len={192.7}>Truncation energy</Title>
      <XLabel x={279} y={927.7} len={177.7}>Truncation order</XLabel>
      <YLabel x={24} y={700} len={71}>Energy</YLabel>
    </g>
  );
};

const PanelD = () => {
  const x = d3.scaleLinear().domain([0, 0.6]).range([572.7, 980.3]);
  const y = d3.scaleLinear().domain([-1, 2.5]).range([874.7, 553.3]);
  const yTicks = [-1, -0.5, 0, 0.5, 1, 1.5, 2, 2.5];
  const serif = "'Liberation Serif', serif";
  return (
    <g>
      {yTicks.slice(1).map((v) => (
        <line key={v} x1={572.7} x2={980.3} y1={y(v)} y2={y(v)} stroke="#ececec" strokeWidth={1} />
      ))}
      <Axis scale={x} side="bottom" at={[0, 874.7]} values={[0, 0.1, 0.2, 0.3, 0.4, 0.5, 0.6]} size={4} pad={5} fontSize={12} color="#666" />
      <Axis scale={y} side="left" at={[572.7, 0]} values={yTicks} size={4} pad={5} fontSize={12} color="#666" domain={false} />
      <line x1={572.7} x2={572.7} y1={553.3} y2={874.7} stroke="#8a8a8a" strokeWidth={1.6} />
      {modeFrequency.map((f, i) => (
        <circle key={i} cx={x(f)} cy={y(modeAmplitude[i])} r={3.4} fill="#ea121e" stroke="#7a1b1f" strokeWidth={0.8} />
      ))}
      <Tag x={548.3} y={490} letter="D" />
      <Title x={583.3} y={512.3} len={163.7}>Mode selection</Title>
      <XLabel x={786.7} y={927.7} len={182.7}>Frequency, 1/day</XLabel>
      <g transform="translate(535,731) rotate(-90)" fontFamily={serif} fontStyle="italic" fill="#444">
        <text x={0} y={0} fontSize={26}>λ</text>
        <text x={13} y={-10} fontSize={18}>α</text>
        <text x={14} y={11} fontSize={17}>k</text>
        <text x={25} y={0} fontSize={22} fontStyle="normal">||</text>
        <text x={36} y={0} fontSize={24}>ϕ</text>
        <text x={49} y={11} fontSize={17}>k</text>
        <text x={58} y={0} fontSize={22} fontStyle="normal">||</text>
      </g>
    </g>
  );
};

const PanelE = () => {
  const x = d3.scaleLinear().domain([-1, 1]).range([108.7, 402]);
  const y = d3.scaleLinear().domain([-1, 1]).range([1321, 1028.3]);
  const xTicks = [-1, -0.5, 0, 0.5, 1];
  const yTicks = [-1, -0.8, -0.6, -0.4, -0.2, 0, 0.2, 0.4, 0.6, 0.8, 1];
  return (
    <g>
      {xTicks.map((v) => (
        <line key={v} x1={x(v)} x2={x(v)} y1={1014} y2={1335.7} stroke="#e6e6e6" strokeWidth={1} />
      ))}
      {yTicks.map((v) => (
        <line key={v} x1={94.3} x2={416.3} y1={y(v)} y2={y(v)} stroke="#ececec" strokeWidth={Math.abs(v) === 0.8 || Math.abs(v) === 0.2 ? 1.8 : 1} />
      ))}
      <rect x={94.3} y={1014} width={322} height={321.7} fill="none" stroke="#666" strokeWidth={1} />
      <Axis scale={x} side="bottom" at={[0, 1335.7]} values={xTicks} size={3} pad={9} fontSize={14} domain={false} />
      <Axis scale={x} side="top" at={[0, 1014]} values={xTicks} format={() => ""} size={3} domain={false} />
      <Axis scale={y} side="left" at={[94.3, 0]} values={yTicks} size={0} pad={9} fontSize={14} domain={false} />
      <Axis scale={y} side="right" at={[416.3, 0]} values={yTicks} format={() => ""} size={3} domain={false} />
      <ellipse cx={x(0)} cy={y(0)} rx={x(1) - x(0)} ry={y(0) - y(1)} fill="none" stroke="#555" strokeWidth={1} strokeDasharray="8 3" />
      {eigenReal.map((re, i) => (
        <circle key={i} cx={x(re)} cy={y(eigenImag[i])} r={3.5} fill="#ea121e" stroke="#6e1a1e" strokeWidth={0.9} />
      ))}
      <Tag x={31.7} y={969} letter="E" />
      <Title x={64} y={991} len={112.7}>Eigenvalue</Title>
      <XLabel x={256} y={1390} len={43}>Real</XLabel>
      <YLabel x={24} y={1195} len={106}>Imaginary</YLabel>
    </g>
  );
};

const PanelF = () => {
  const x = d3.scaleLinear().domain([5, 40]).range([607.7, 921.3]);
  const y = d3.scaleLinear().domain([5, 55]).range([1038.7, 1326]);
  return (
    <g>
      <HeatRows rows={modeRows} x={x} y={y} color={modeColor} lastCol={40} />
      <Axis scale={x} side="bottom" at={[0, 1334.4]} values={d3.range(5, 41, 5)} size={3} pad={6} domain={false} fontSize={12} />
      <Axis scale={y} side="left" at={[567.5, 0]} values={d3.range(5, 56, 5)} size={4} pad={5} domain={false} fontSize={12} />
      <ColorBar x={940.7} y={1012.7} w={24} h={321.6} color={modeColor} lo={-0.67} hi={0.74} ticks={[-0.6, -0.4, -0.2, 0, 0.2, 0.4, 0.6]} />
      <Tag x={546.3} y={970.3} letter="F" />
      <Title x={581} y={992.3} len={323}>Eigen mode matrix for US data</Title>
      <XLabel x={766.7} y={1391.7} len={61}>Mode</XLabel>
      <YLabel x={536.7} y={1186} len={95.7}>US states</YLabel>
    </g>
  );
};

const CONE = 0.636;
const densify = (pts: Pt[]) => {
  const out: Pt[] = [];
  pts.forEach((p, i) => {
    const q = pts[i + 1];
    out.push(p);
    if (!q) return;
    const n = Math.ceil(Math.max(Math.abs(q[0] - p[0]), Math.abs(q[1] - p[1])));
    for (let k = 1; k < n; k++) out.push([p[0] + ((q[0] - p[0]) * k) / n, p[1] + ((q[1] - p[1]) * k) / n]);
  });
  return out;
};

const USMap = ({ cx, values, color, rough }: { cx: number; values: Record<string, number>; color: (v: number) => string; rough: boolean }) => {
  const projection = d3.geoConicConformal().rotate([95, 0]).parallels([26.3, 52]).scale(1).translate([0, 0]);
  const a = projection([-95, 25])!;
  const b = projection([-95, 55])!;
  const k = (1740.7 - 1522.7) / (a[1] - b[1]);
  projection.scale(k).translate([cx, 1740.7 - k * a[1]]);

  const toPath = d3.line();
  const open = (pts: Pt[]) => toPath(densify(pts).map((p) => projection(p) as [number, number]))!;
  const ring = (pts: Pt[]) => open([...pts, pts[0]]) + "Z";

  const frameEdges: Pt[][] = [
    [[-130, 25], [-60, 25]],
    [[-60, 25], [-60, 55]],
    [[-60, 55], [-130, 55]],
    [[-130, 55], [-130, 25]],
  ];
  const graticule: Pt[][] = [
    ...meridianLabels.slice(1, -1).map((lon) => [[lon, 25], [lon, 55]] as Pt[]),
    ...parallelLabels.map((lat) => [[-130, lat], [-60, lat]] as Pt[]),
  ];
  const landFill = rough ? "#f9f5f5" : "#fbf8fa";
  const thin = rough ? "#111" : "#9a9a9a";

  return (
    <g>
      <path d={ring(canadaLand)} fill={landFill} stroke={rough ? "none" : "#aaa"} strokeWidth={0.6} />
      <path d={ring(jamesBay)} fill="#fff" stroke={thin} strokeWidth={0.7} strokeDasharray={rough ? "2 6" : undefined} />
      <path d={ring(mexicoLand)} fill={landFill} stroke={rough ? "none" : thin} strokeWidth={0.7} />
      {!rough && graticule.map((g, i) => <path key={i} d={open(g)} fill="none" stroke="#ece8ec" strokeWidth={0.8} />)}
      {coastLines.map((c, i) => (
        <path key={i} d={open(c)} fill="none" stroke={thin} strokeWidth={0.7} strokeDasharray={rough ? "2 6" : undefined} />
      ))}
      {rough && <path d={ring(mexicoLand)} fill="none" stroke="#111" strokeWidth={0.8} strokeDasharray="2 11" />}
      {stateNames.map((s) => (
        <path key={s} d={ring(stateShapes[s])} fill={color(values[s] ?? 0)} stroke={rough ? "none" : "#3a2a35"} strokeWidth={0.7} />
      ))}
      {rough && stateNames.map((s) => (
        <path key={s} d={ring(stateShapes[s])} fill="none" stroke="#111" strokeWidth={1} strokeDasharray="3 8" />
      ))}
      {lakes.map((l, i) => (
        <path key={i} d={ring(l)} fill="#abd6ea" stroke={rough ? "none" : "#555"} strokeWidth={0.5} />
      ))}
      {rivers.map((r, i) => (
        <path key={i} d={open(r)} fill="none" stroke={rough ? "#2a55e0" : "#7088d4"} strokeWidth={rough ? 1 : 0.7} strokeDasharray={rough ? "2 6" : undefined} opacity={rough ? 1 : 0.85} />
      ))}
      {frameEdges.map((e, i) => (
        <path key={i} d={open(e)} fill="none" stroke="#111" strokeWidth={1.5} strokeDasharray={rough && i % 2 === 0 ? "14 3" : undefined} />
      ))}
      {meridianLabels.map((lon) => {
        const p = projection([lon, 25])!;
        const rot = -(lon + 95) * CONE;
        const rad = (rot * Math.PI) / 180;
        return (
          <g key={lon}>
            <line x1={p[0]} y1={p[1]} x2={p[0] - 3 * Math.sin(rad)} y2={p[1] + 3 * Math.cos(rad)} stroke="#333" strokeWidth={0.8} />
            <text transform={`translate(${p[0] - 18 * Math.sin(rad)},${p[1] + 18 * Math.cos(rad)}) rotate(${rot})`} textAnchor="middle" dominantBaseline="middle" fontFamily={UI_FONT} fontSize={10.5} fill="#444">
              {`${-lon}° W`}
            </text>
          </g>
        );
      })}
      {parallelLabels.map((lat) => {
        const p = projection([-130, lat])!;
        return (
          <text key={lat} transform={`translate(${p[0] - 16.5},${p[1] - 5.4}) rotate(20)`} textAnchor="middle" dominantBaseline="middle" fontFamily={UI_FONT} fontSize={10.5} fill="#444">
            {`${lat}° N`}
          </text>
        );
      })}
    </g>
  );
};

const PanelG = () => {
  const bar = d3.scaleLinear().domain([0, 1]).range([357.5, 630.3]);
  const barSteps = d3.range(0, 1, 1 / 128);
  return (
    <g>
      <USMap cx={252.8} values={magnitudeValues} color={magnitudeColor} rough />
      <USMap cx={749.2} values={phaseValues} color={phaseColor} rough={false} />
      <Title x={246.7} y={1466} anchor="middle" len={115}>Magnitude</Title>
      <Title x={736} y={1466} anchor="middle" len={61.3}>Phase</Title>
      <Tag x={489.3} y={1444} letter="G" />
      {barSteps.map((s) => (
        <rect key={s} x={bar(s)} y={1781} width={bar(1 / 128) - bar(0) + 0.4} height={15.7} fill={phaseColor(s)} />
      ))}
      <rect x={bar(0)} y={1781} width={bar(1) - bar(0)} height={15.7} fill="none" stroke="#111" strokeWidth={1.3} />
      <Axis scale={bar} side="bottom" at={[0, 1796.7]} values={d3.range(0, 11).map((d) => d / 10)} size={0} pad={3} fontSize={11.5} color="#444" domain={false} />
      <text x={494} y={1833} textAnchor="middle" fontFamily={LABEL_FONT} fontSize={18.5} fill={TEXT_DARK} textLength={147} lengthAdjust="spacingAndGlyphs">Normalized value</text>
    </g>
  );
};

export default function App() {
  return (
    <svg width={1000} height={1837} style={{ position: "absolute", left: 0, top: 0, background: "#fff" }}>
      <PanelA />
      <PanelB />
      <PanelC />
      <PanelD />
      <PanelE />
      <PanelF />
      <PanelG />
    </svg>
  );
}
